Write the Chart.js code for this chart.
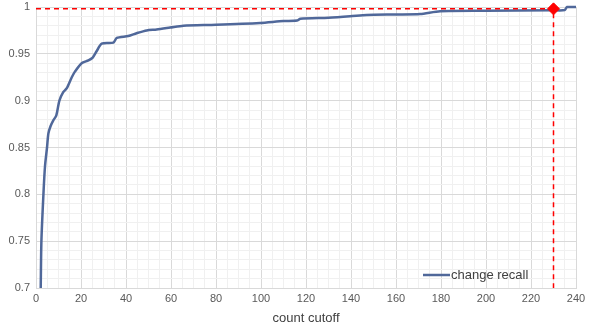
<!DOCTYPE html>
<html>
<head>
<meta charset="utf-8">
<script src="https://cdn.jsdelivr.net/npm/chart.js@4/dist/chart.umd.min.js"></script>
<style>
  html, body { margin: 0; padding: 0; background: #fff; }
  #wrap { width: 598px; height: 330px; }
</style>
</head>
<body>
<div id="wrap"><canvas id="recallChart"></canvas></div>
<script>
// count cutoff (x) and recall (y)
const cutoffs = [2.1, 2.4, 3.3, 4.0, 4.9, 5.5, 6.5, 7.7, 9.0, 10.4, 12.1, 13.6, 15.9, 17.3, 20.3, 23.3, 25.2, 27, 29.2, 34.4,
    35.9, 41, 44.7, 49.2, 53.6, 59.6, 65.5, 80, 99.6, 110, 116, 117.5, 130, 139.6, 147, 160, 170.7, 179.6, 200, 229.6,
    235, 236, 240];
const recall = [0.70, 0.75, 0.80, 0.83, 0.85, 0.865, 0.873, 0.879, 0.884, 0.90, 0.909, 0.913, 0.925, 0.931, 0.940, 0.943, 0.946, 0.953, 0.961, 0.962,
    0.967, 0.969, 0.972, 0.975, 0.976, 0.978, 0.980, 0.981, 0.983, 0.985, 0.9855, 0.9875, 0.9885, 0.990, 0.9915, 0.992, 0.9925, 0.9955, 0.996, 0.9965,
    0.9967, 1.0, 1.0];

// chosen operating point
const markerCutoff = 230;
const markerRecall = 0.998;

const xTicks = { min: 0, max: 240, minor: 5, major: 20 };
const yTicks = { min: 0.7, max: 1.0, minor: 0.01, major: 0.05 };

const lineColor = '#50689a';
const fontFamily = '"Liberation Sans", "DejaVu Sans", sans-serif';

const legendPlugin = {
    id: 'insideLegend',
    afterDraw(chart) {
        const ctx = chart.ctx;
        const area = chart.chartArea;
        const y = area.bottom - 13;
        const x0 = area.right - 153;
        ctx.save();
        ctx.strokeStyle = lineColor;
        ctx.lineWidth = 2.5;
        ctx.beginPath();
        ctx.moveTo(x0, y);
        ctx.lineTo(x0 + 27, y);
        ctx.stroke();
        ctx.fillStyle = '#404040';
        ctx.font = '13px ' + fontFamily;
        ctx.textBaseline = 'middle';
        ctx.fillText('change recall', x0 + 28, y);
        ctx.restore();
    }
};

const ctx = document.getElementById('recallChart').getContext('2d');
new Chart(ctx, {
    type: 'line',
    data: {
        datasets: [
            {
                label: 'change recall',
                data: cutoffs.map((c, i) => ({ x: c, y: recall[i] })),
                borderColor: lineColor,
                borderWidth: 2.5,
                pointRadius: 0,
                tension: 0.25,
                fill: false,
                order: 2
            },
            {
                label: 'cutoff guide',
                data: [
                    { x: xTicks.min, y: markerRecall },
                    { x: markerCutoff, y: markerRecall },
                    { x: markerCutoff, y: yTicks.min }
                ],
                borderColor: '#ff0000',
                borderWidth: 1.5,
                borderDash: [5, 4],
                pointRadius: 0,
                tension: 0,
                fill: false,
                order: 1
            },
            {
                label: 'marker',
                data: [{ x: markerCutoff, y: markerRecall }],
                showLine: false,
                pointStyle: 'rectRot',
                pointRadius: 6,
                pointBackgroundColor: '#ff0000',
                pointBorderColor: '#ff0000',
                order: 0
            }
        ]
    },
    options: {
        responsive: true,
        maintainAspectRatio: false,
        animation: false,
        clip: false,
        layout: { padding: { top: 0, right: 22, left: 0, bottom: 0 } },
        plugins: {
            legend: { display: false },
            tooltip: { enabled: false }
        },
        scales: {
            x: {
                type: 'linear',
                min: xTicks.min,
                max: xTicks.max,
                afterFit(scale) { scale.height = 42; },
                border: { color: '#d9d9d9' },
                grid: {
                    drawTicks: false,
                    color: c => (Math.round(c.tick.value) % xTicks.major === 0 ? '#d9d9d9' : '#f0f0f0')
                },
                ticks: {
                    stepSize: xTicks.minor,
                    autoSkip: false,
                    maxRotation: 0,
                    padding: 4,
                    color: '#595959',
                    font: { family: fontFamily, size: 11 },
                    callback: v => (Math.round(v) % xTicks.major === 0 ? String(Math.round(v)) : '')
                },
                title: {
                    display: true,
                    text: 'count cutoff',
                    color: '#404040',
                    font: { family: fontFamily, size: 13 },
                    padding: { top: 4, bottom: 4 }
                }
            },
            y: {
                min: yTicks.min,
                max: yTicks.max,
                afterFit(scale) {
                    // tick padding would otherwise push the top down
                    scale.width = 36;
                    scale.paddingTop = 6;
                    scale.paddingBottom = 0;
                },
                border: { color: '#d9d9d9' },
                grid: {
                    drawTicks: false,
                    color: c => (Math.round(c.tick.value * 100) % 5 === 0 ? '#d9d9d9' : '#f0f0f0')
                },
                ticks: {
                    stepSize: yTicks.minor,
                    autoSkip: false,
                    padding: 6,
                    color: '#595959',
                    font: { family: fontFamily, size: 11 },
                    callback: v => (Math.round(v * 100) % 5 === 0 ? String(Number(v.toFixed(2))) : '')
                }
            }
        }
    },
    plugins: [legendPlugin]
});
</script>
</body>
</html>
